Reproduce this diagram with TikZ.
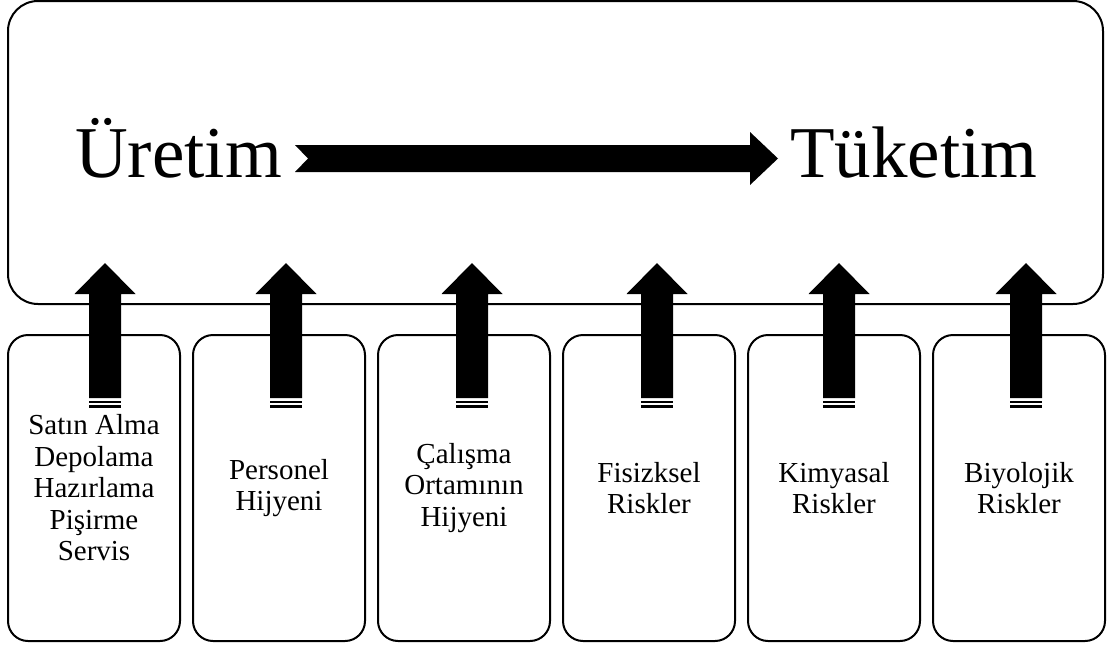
\documentclass[tikz,border=0pt]{standalone}
\usepackage{fontspec}
\setmainfont{Liberation Serif}
\usetikzlibrary{positioning}
\tikzset{
  flow frame/.style={draw, fill=white, rounded corners=30pt, line width=2pt, outer sep=0pt, minimum width=1095pt, minimum height=303pt},
  risk box/.style={draw, fill=white, rounded corners=20pt, line width=2pt, outer sep=0pt, inner sep=0pt, minimum width=172pt, minimum height=306pt, align=center, font=\fontsize{29}{31.5}\selectfont},
  stage label/.style={font=\fontsize{73}{80}\selectfont, inner sep=0pt, anchor=base west},
}

\begin{document}
\begin{tikzpicture}[x=1pt, y=-1pt]
  \useasboundingbox (0,0) rectangle (1109,648);

  % top frame with the production -> consumption flow
  \node[flow frame] (flow) at (555.5,152.5) {};
  \node[stage label] (uretim) at (75,177) {Üretim};
  \node[stage label] (tuketim) at (790,177) {Tüketim};
  \coordinate (tail) at (295,145);
  \fill (tail) -- ++(455,0) -- ++(0,-13) -- ++(28,26.5) -- ++(-28,26.5) -- ++(0,-13)
        -- ++(-455,0) -- ++(13,-13.5) -- cycle;

  % risk boxes along the bottom
  \node[risk box] (r1) at (94,488) {Satın Alma\\Depolama\\Hazırlama\\Pişirme\\Servis};
  \node[risk box, right=13pt of r1] (r2) {Personel\\Hijyeni};
  \node[risk box, right=13pt of r2] (r3) {Çalışma\\Ortamının\\Hijyeni};
  \node[risk box, right=13pt of r3] (r4) {Fisizksel\\Riskler};
  \node[risk box, right=13pt of r4] (r5) {Kimyasal\\Riskler};
  \node[risk box, right=13pt of r5] (r6) {Biyolojik\\Riskler};

  % striped block arrows from each box up into the frame
  \foreach \i/\dx in {1/11,2/7,3/8,4/8,5/5,6/7}{
    \path ([xshift=\dx pt]r\i.north) coordinate (a\i);
    \fill (a\i) ++(-16,63) -- ++(0,-104) -- ++(-14.5,0) -- ++(30.5,-31)
          -- ++(30.5,31) -- ++(-14.5,0) -- ++(0,104) -- cycle;
    \fill (a\i) ++(-16,65.5) rectangle ++(32,2.5);
    \fill (a\i) ++(-16,70) rectangle ++(32,2.5);
  }
\end{tikzpicture}
\end{document}
